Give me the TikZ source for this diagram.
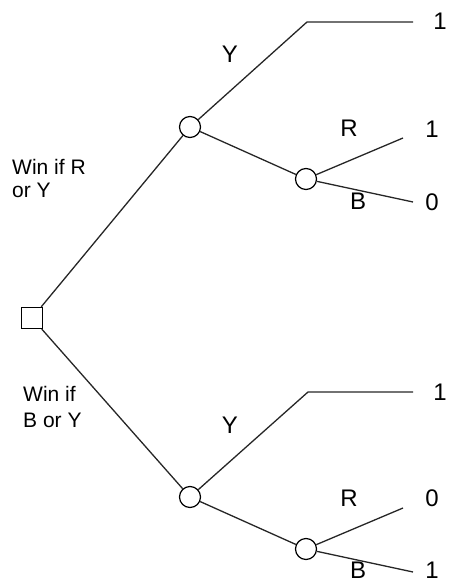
\documentclass[tikz,border=0pt]{standalone}
\usepackage{fontspec}
\setmainfont{Liberation Sans}
\begin{document}
\begin{tikzpicture}[x=1pt,y=-1pt,
  branch/.style={line width=1.3pt, draw=black!85},
  chance/.style={circle, draw, line width=1.2pt, minimum size=21pt, inner sep=0pt},
  decision/.style={rectangle, draw, line width=1.3pt, minimum size=21pt, inner sep=0pt},
  lbl/.style={anchor=base, inner sep=0pt, font=\fontsize{24}{28}\selectfont},
  note/.style={anchor=base west, inner sep=0pt, align=left}]
\useasboundingbox (0,0) rectangle (451,586);
% nodes
\node[decision] (sq) at (32,318) {};
\node[chance] (c1) at (190,127) {};
\node[chance] (c2) at (306,179) {};
\node[chance] (c3) at (190,497) {};
\node[chance] (c4) at (306,549) {};
\coordinate (y1a) at (307,22);
\coordinate (y1b) at (413,22);
\coordinate (r1) at (403,138);
\coordinate (b1) at (413,202);
\coordinate (y2a) at (308,392);
\coordinate (y2b) at (413,392);
\coordinate (r2) at (403,508);
\coordinate (b2) at (413,572);
% connectors
\draw[branch] (sq) -- (c1);
\draw[branch] (sq) -- (c3);
\draw[branch] (c1) -- (y1a) -- (y1b);
\draw[branch] (c1) -- (c2);
\draw[branch] (c2) -- (r1);
\draw[branch] (c2) -- (b1);
\draw[branch] (c3) -- (y2a) -- (y2b);
\draw[branch] (c3) -- (c4);
\draw[branch] (c4) -- (r2);
\draw[branch] (c4) -- (b2);
% labels
\node[lbl] (ly1) at (230,63) {Y};
\node[lbl] (o1) at (440,30) {1};
\node[lbl] (lr1) at (349,136) {R};
\node[lbl] (o2) at (432,137) {1};
\node[lbl] (lb1) at (358,209) {B};
\node[lbl] (o3) at (432,210) {0};
\node[lbl] (ly2) at (230,433) {Y};
\node[lbl] (o4) at (440,400) {1};
\node[lbl] (lr2) at (349,506) {R};
\node[lbl] (o5) at (432,506) {0};
\node[lbl] (lb2) at (358,578) {B};
\node[lbl] (o6) at (432,578) {1};
\node[note, font=\fontsize{21}{23}\selectfont] (w1) at (12,197) {Win if R\\or Y};
\node[note, font=\fontsize{21}{26}\selectfont] (w2) at (23,427) {Win if\\B or Y};
\end{tikzpicture}
\end{document}
